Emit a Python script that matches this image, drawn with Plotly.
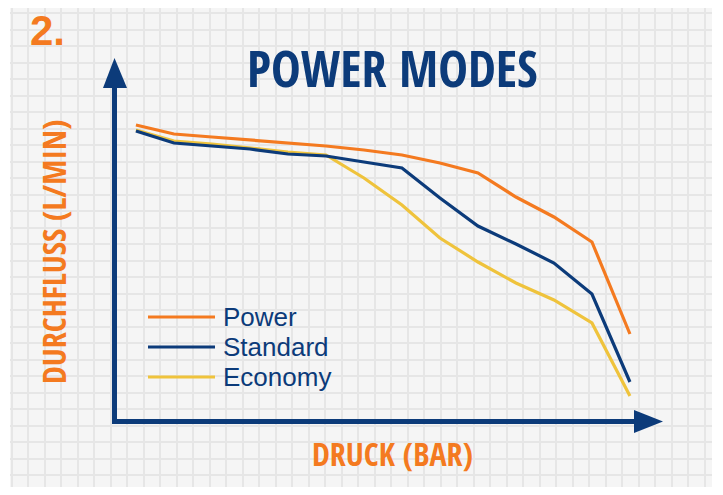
import plotly.graph_objects as go

# The page body has an 8px margin, so the figure is sized to fit and
# all layout positions below are given in window pixels.
OFF = 8
W, H = 707, 479

# ---- data (arbitrary flow units) ----
druck = [0, 20, 40, 60, 80, 100, 120, 140, 160, 180, 200, 220, 240, 260]
power = [295, 286, 283, 280, 277, 274, 270, 265, 257, 247, 223, 203, 178, 86]
standard = [289, 277, 274, 271, 266, 264, 258, 252, 222, 194, 176, 157, 126, 38]
economy = [290, 279, 276, 272, 268, 265, 242, 215, 182, 158, 137, 120, 97, 24]
series_names = ["Power", "Standard", "Economy"]

ORANGE = "#f47a20"
NAVY = "#0c3b7a"
YELLOW = "#efc33c"
colors = [ORANGE, NAVY, YELLOW]


def px(x):
    return (x - OFF) / W


def py(y):
    return 1 - (y - OFF) / H


fig = go.Figure()

# invisible trace to hold the background grid subplot
fig.add_trace(go.Scatter(x=[20], y=[20], mode="markers", marker=dict(opacity=0),
                         xaxis="x", yaxis="y", showlegend=False, hoverinfo="skip"))

# draw order: Power, Economy, Standard (navy on top of yellow at the start)
order = [0, 2, 1]
all_vals = [power, standard, economy]
for k in order:
    fig.add_trace(go.Scatter(x=druck, y=all_vals[k], mode="lines", name=series_names[k],
                             line=dict(color=colors[k], width=3.2),
                             xaxis="x2", yaxis="y2", showlegend=False))

shapes = []
# paper background
shapes.append(dict(type="rect", xref="paper", yref="paper", x0=px(10), x1=px(712),
                   y0=py(495), y1=py(OFF), fillcolor="#f5f5f5", line=dict(width=0), layer="below"))

# axes arrows
shapes.append(dict(type="rect", xref="paper", yref="paper", x0=px(112), x1=px(117),
                   y0=py(424), y1=py(84), fillcolor=NAVY, line=dict(width=0)))
shapes.append(dict(type="path", xref="paper", yref="paper",
                   path=f"M {px(103)} {py(88)} L {px(127)} {py(88)} L {px(114.5)} {py(58)} Z",
                   fillcolor=NAVY, line=dict(width=0)))
shapes.append(dict(type="rect", xref="paper", yref="paper", x0=px(112), x1=px(638),
                   y0=py(424), y1=py(419), fillcolor=NAVY, line=dict(width=0)))
shapes.append(dict(type="path", xref="paper", yref="paper",
                   path=f"M {px(634)} {py(410)} L {px(634)} {py(433)} L {px(663)} {py(421.5)} Z",
                   fillcolor=NAVY, line=dict(width=0)))

# legend (manual)
leg_y = [317, 347, 377]
annotations = []
for name, c, yy in zip(series_names, colors, leg_y):
    shapes.append(dict(type="line", xref="paper", yref="paper", x0=px(148), x1=px(215),
                       y0=py(yy), y1=py(yy), line=dict(color=c, width=3)))
    annotations.append(dict(text=name, xref="paper", yref="paper", x=px(221), y=py(yy),
                            xanchor="left", yanchor="middle", showarrow=False,
                            font=dict(family="Liberation Sans, Arial, sans-serif", size=26, color=NAVY)))

COND = "Open Sans Condensed, Roboto Condensed, DejaVu Sans Condensed, sans-serif"
annotations += [
    dict(text="POWER MODES", xref="paper", yref="paper", x=px(392), y=py(68),
         xanchor="center", yanchor="middle", showarrow=False,
         font=dict(family=COND, size=50, color=NAVY, weight=800)),
    dict(text="<b>2.</b>", xref="paper", yref="paper", x=px(28), y=py(31),
         xanchor="left", yanchor="middle", showarrow=False,
         font=dict(family="Liberation Sans, Arial, sans-serif", size=42, color=ORANGE)),
    dict(text="DURCHFLUSS (L/MIN)", xref="paper", yref="paper", x=px(53), y=py(252),
         xanchor="center", yanchor="middle", showarrow=False, textangle=-90,
         font=dict(family=COND, size=32, color=ORANGE, weight=800)),
    dict(text="DRUCK (BAR)", xref="paper", yref="paper", x=px(392), y=py(453),
         xanchor="center", yanchor="middle", showarrow=False,
         font=dict(family=COND, size=32, color=ORANGE, weight=800)),
]

GRID = "#e6e6e6"
fig.update_layout(
    width=W, height=H,
    margin=dict(l=0, r=0, t=0, b=0),
    paper_bgcolor="white",
    plot_bgcolor="rgba(0,0,0,0)",
    showlegend=False,
    shapes=shapes,
    annotations=annotations,
    xaxis=dict(domain=[px(10), px(712)], range=[10, 712], tick0=11.5, dtick=16.5,
               showgrid=True, gridcolor=GRID, gridwidth=2.2, zeroline=False,
               showticklabels=False, ticks="", showline=False, fixedrange=True),
    yaxis=dict(domain=[0, 1], range=[OFF + H, OFF], tick0=13, dtick=16.5,
               showgrid=True, gridcolor=GRID, gridwidth=2.2, zeroline=False,
               showticklabels=False, ticks="", showline=False, fixedrange=True),
    xaxis2=dict(domain=[px(116), px(663)], range=[-10.5, 277.4], anchor="y2",
                showgrid=False, zeroline=False, showticklabels=False, ticks="", showline=False),
    yaxis2=dict(domain=[py(420), py(58)], range=[0, 362], anchor="x2",
                showgrid=False, zeroline=False, showticklabels=False, ticks="", showline=False),
)

fig.write_html("out.html")
